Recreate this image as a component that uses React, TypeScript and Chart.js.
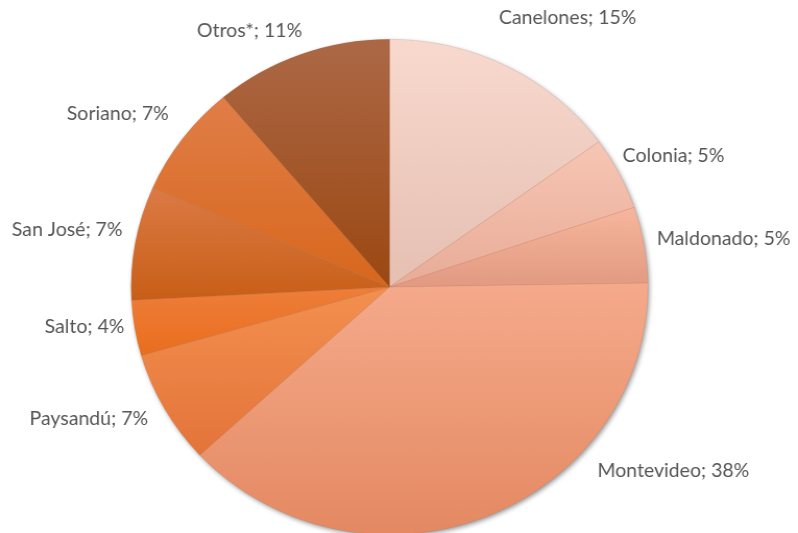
import React, { useEffect, useRef } from "react";
import { Chart, registerables } from "chart.js";

Chart.register(...registerables);

const categories = ["Canelones", "Colonia", "Maldonado", "Montevideo", "Paysandú", "Salto", "San José", "Soriano", "Otros*"];
const shares = [15.0, 4.75, 4.95, 38.3, 7.4, 3.6, 7.4, 7.3, 11.1];
const topColors = ["#F9D9CE", "#F7C6B4", "#F6B69D", "#F5AA8B", "#F3904F", "#EE7E3A", "#DC7A45", "#E07E48", "#AC6846"];
const bottomColors = ["#E5BFB2", "#E8AC98", "#E29A82", "#E48962", "#E4743A", "#E96E1E", "#C85F18", "#D8671C", "#9B4812"];
// label nudges (final px) relative to the generic outside placement
const labelNudge: [number, number][] = [
  [-14, -29], [-8, -7], [0, -2], [107, -66], [-5, 0], [2.5, -5], [0, -8.5], [-3.5, -12], [5.5, -2.5],
];

const SX = 798 / 765;
const W = 765;
const H = 545;

function inArc(a: number, s: number, e: number) {
  for (let n = -2; n <= 2; n++) {
    const v = a + 2 * Math.PI * n;
    if (v >= s && v <= e) return true;
  }
  return false;
}

export default function App() {
  const ref = useRef<HTMLCanvasElement | null>(null);
  useEffect(() => {
    document.documentElement.style.overflow = "hidden";
    document.body.style.margin = "0";
    document.body.style.overflow = "hidden";
    const canvas = ref.current!;
    const total = shares.reduce((a, b) => a + b, 0);

    const shadowPlugin = {
      id: "pieShadow",
      beforeDatasetsDraw(chart: any) {
        const el = chart.getDatasetMeta(0).data[0];
        if (!el) return;
        const { x, y, outerRadius } = el.getProps(["x", "y", "outerRadius"], true);
        const ctx = chart.ctx;
        ctx.save();
        ctx.shadowColor = "rgba(0,0,0,0.45)";
        ctx.shadowBlur = 5;
        ctx.shadowOffsetX = 1.5;
        ctx.shadowOffsetY = 2;
        ctx.beginPath();
        ctx.arc(x, y, outerRadius - 0.5, 0, Math.PI * 2);
        ctx.fillStyle = "#e8a080";
        ctx.fill();
        ctx.restore();
      },
    };

    const labelPlugin = {
      id: "outsideLabels",
      afterDatasetsDraw(chart: any) {
        const ctx = chart.ctx;
        const meta = chart.getDatasetMeta(0);
        ctx.save();
        const fs = 18.7;
        ctx.font = `${fs}px Lato, "Open Sans", sans-serif`;
        ctx.fillStyle = "#555555";
        ctx.textBaseline = "middle";
        meta.data.forEach((el: any, i: number) => {
          const { x, y, startAngle, endAngle, outerRadius } = el.getProps(
            ["x", "y", "startAngle", "endAngle", "outerRadius"], true
          );
          const mid = (startAngle + endAngle) / 2;
          const dx = Math.cos(mid);
          const dy = Math.sin(mid);
          const pct = Math.round((shares[i] / total) * 100);
          const text = `${categories[i]}; ${pct}%`;
          const w = ctx.measureText(text).width;
          const px = x + outerRadius * 1.05 * dx;
          const py = y + outerRadius * 1.05 * dy;
          let left = dx >= 0 ? px : px - w;
          let cy = py + (dy * fs) / 2;
          left += labelNudge[i][0] / SX;
          cy += labelNudge[i][1];
          ctx.textAlign = "left";
          ctx.fillText(text, left, cy);
        });
        ctx.restore();
      },
    };

    const chart = new Chart(canvas, {
      type: "pie",
      data: {
        labels: categories,
        datasets: [
          {
            data: shares,
            borderWidth: 0.5,
            borderColor: "rgba(150,100,80,0.3)",
            backgroundColor: (context: any) => {
              const i = context.dataIndex;
              const area = context.chart.chartArea;
              if (!area || i === undefined) return topColors[i ?? 0];
              const cx = (area.left + area.right) / 2;
              const cy = (area.top + area.bottom) / 2;
              const r = Math.min(area.right - area.left, area.bottom - area.top) / 2;
              let cum = 0;
              for (let k = 0; k < i; k++) cum += shares[k];
              const s = -Math.PI / 2 + (2 * Math.PI * cum) / total;
              const e = s + (2 * Math.PI * shares[i]) / total;
              const ys = [cy, cy + r * Math.sin(s), cy + r * Math.sin(e)];
              if (inArc(Math.PI / 2, s, e)) ys.push(cy + r);
              if (inArc(-Math.PI / 2, s, e)) ys.push(cy - r);
              const y0 = Math.min(...ys);
              const y1 = Math.max(...ys);
              const g = context.chart.ctx.createLinearGradient(0, y0, 0, y1 + 0.01);
              g.addColorStop(0, topColors[i]);
              g.addColorStop(1, bottomColors[i]);
              return g;
            },
          },
        ],
      },
      options: {
        responsive: false,
        animation: false,
        layout: { padding: { left: 125.4, right: W - 125.4 - 496, top: 39, bottom: H - 39 - 496 } },
        plugins: { legend: { display: false }, tooltip: { enabled: false } },
      },
      plugins: [shadowPlugin, labelPlugin],
    });
    return () => chart.destroy();
  }, []);

  return (
    <div style={{ width: W, height: H, transform: `scaleX(${SX})`, transformOrigin: "0 0" }}>
      <canvas ref={ref} width={W} height={H} style={{ display: "block" }} />
    </div>
  );
}
